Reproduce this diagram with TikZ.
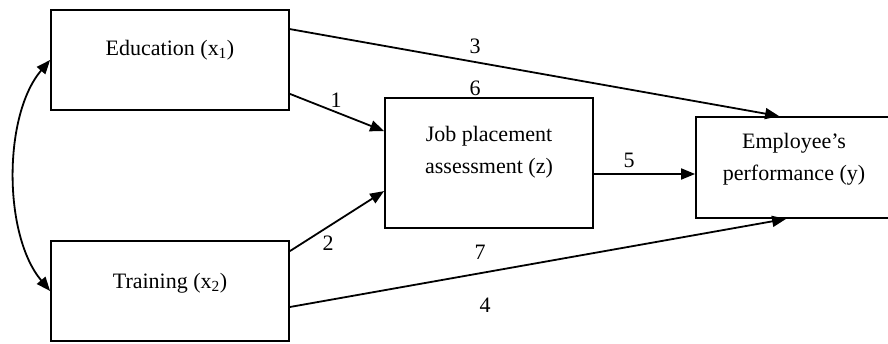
\documentclass[tikz,border=0pt]{standalone}
\usepackage{fontspec}
\setmainfont{Liberation Serif}
\usetikzlibrary{arrows.meta,calc}
\begin{document}
\begin{tikzpicture}[x=1pt,y=-1pt,
  box/.style={draw,line width=1.8pt,inner sep=0pt},
  lbl/.style={font=\fontsize{22}{32}\selectfont,align=center,inner sep=0pt},
  num/.style={font=\fontsize{22}{26}\selectfont,inner sep=0pt},
  arr/.style={line width=1.8pt,-{Triangle[length=14pt,width=11pt]}},
  darr/.style={line width=1.8pt,{Triangle[length=14pt,width=11pt]}-{Triangle[length=14pt,width=11pt]}}]
\useasboundingbox (0,0) rectangle (888,344);
\node[box,minimum width=238pt,minimum height=100pt,label={[lbl,yshift=10pt]center:Education (x\textsubscript{1})}] (edu) at (170,60) {};
\node[box,minimum width=238pt,minimum height=100pt,label={[lbl,yshift=8pt]center:Training (x\textsubscript{2})}] (train) at (170,291) {};
\node[box,minimum width=208pt,minimum height=130pt,label={[lbl,yshift=11pt]center:Job placement\\assessment (z)}] (job) at (489,163) {};
\node[box,minimum width=196pt,minimum height=101pt,label={[lbl,yshift=8pt]center:Employee’s\\performance (y)}] (emp) at (794,167.5) {};
\draw[arr] ($(edu.north east)+(0,20)$) -- ($(emp.north west)+(84,0)$);
\draw[arr] ($(edu.south east)+(0,-17)$) -- ($(job.north west)+(0,34)$);
\draw[arr] ($(train.north east)+(0,11)$) -- ($(job.north west)+(0,94)$);
\draw[arr] ($(job.east)+(0,11)$) coordinate (j5) -- (j5 -| emp.west);
\draw[arr] ($(train.east)+(0,16)$) -- ($(emp.south west)+(91,0)$);
\draw[darr] ($(edu.west)+(0,0)$) .. controls (3,115) and (3,235) .. ($(train.west)+(0,0)$);
\node[num] (n1) at (336,100) {1};
\node[num] (n2) at (328,243) {2};
\node[num] (n3) at (475,46) {3};
\node[num] (n4) at (485,305) {4};
\node[num] (n5) at (629,160) {5};
\node[num] (n6) at (475,88) {6};
\node[num] (n7) at (480,252) {7};
\end{tikzpicture}
\end{document}
